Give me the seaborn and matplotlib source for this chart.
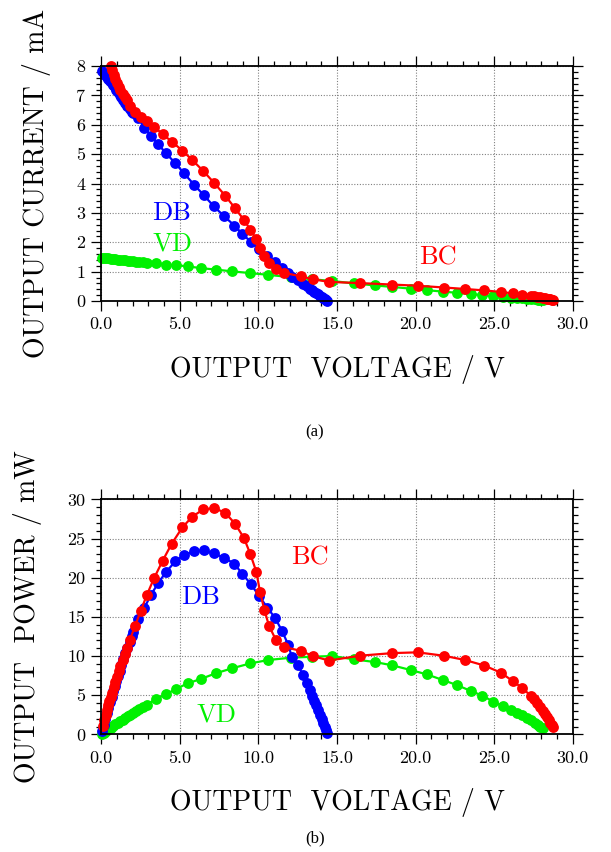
import numpy as np
import matplotlib
matplotlib.use("Agg")
import matplotlib.pyplot as plt
from matplotlib.ticker import MultipleLocator, FormatStrFormatter
import seaborn as sns

# ---- measured characteristics: voltage (V), current (mA), power (mW) ----
db_voltage = [0.05, 0.15, 0.25, 0.35, 0.45, 0.55, 0.65, 0.75, 0.85, 0.95,
              1.05, 1.16, 1.28, 1.40, 1.53, 1.66, 1.80, 1.94,
              2.04, 2.36, 2.74, 3.16, 3.63, 4.12, 4.71, 5.26, 5.92, 6.51,
              7.15, 7.81, 8.47, 8.98, 9.51, 10.04, 10.57, 11.07, 11.52, 11.90,
              12.12, 12.54, 12.82, 13.07, 13.28, 13.42, 13.55, 13.68, 13.80,
              13.92, 14.03, 14.13, 14.22, 14.30, 14.37]
db_current = [7.84, 7.77, 7.70, 7.62, 7.55, 7.48, 7.41, 7.34, 7.27, 7.19,
              7.12, 7.03, 6.94, 6.85, 6.75, 6.65, 6.55, 6.45,
              6.39, 6.22, 5.90, 5.63, 5.33, 5.03, 4.69, 4.35, 3.95, 3.61,
              3.23, 2.89, 2.57, 2.28, 2.02, 1.76, 1.53, 1.34, 1.14, 0.96,
              0.82, 0.70, 0.59, 0.50, 0.42, 0.37, 0.32, 0.27, 0.225,
              0.18, 0.14, 0.10, 0.07, 0.04, 0.01]
db_power = [0.39, 1.17, 1.93, 2.67, 3.40, 4.11, 4.82, 5.51, 6.18, 6.83,
            7.48, 8.15, 8.88, 9.59, 10.33, 11.04, 11.79, 12.51,
            13.04, 14.68, 16.17, 17.79, 19.35, 20.72, 22.09, 22.88, 23.38, 23.50,
            23.09, 22.57, 21.77, 20.47, 19.21, 17.67, 16.17, 14.83, 13.13, 11.42,
            9.9, 8.8, 7.6, 6.5, 5.6, 4.9, 4.3, 3.7, 3.1,
            2.5, 1.9, 1.4, 0.95, 0.55, 0.15]

bc_voltage = [0.12, 0.20, 0.28, 0.36, 0.44, 0.52, 0.60, 0.68, 0.78, 0.88, 0.98,
              1.10, 1.22, 1.35, 1.48, 1.61, 1.82, 2.14, 2.50, 2.89, 3.35,
              3.90, 4.48, 5.16, 5.79, 6.50, 7.20, 7.88, 8.51, 9.08, 9.48,
              9.87, 10.10, 10.38, 10.67, 11.10, 11.63, 12.69, 13.49, 14.49, 16.46,
              18.52, 20.14, 21.81, 23.15, 24.38, 25.42, 26.18, 26.80, 27.33,
              27.55, 27.75, 27.93, 28.08, 28.22, 28.35, 28.47, 28.57, 28.66, 28.73]
bc_current = [9.00, 8.85, 8.70, 8.55, 8.40, 8.20, 8.00, 7.85, 7.70, 7.55, 7.41,
              7.30, 7.19, 7.06, 6.95, 6.84, 6.64, 6.45, 6.28, 6.14, 5.94,
              5.68, 5.43, 5.12, 4.80, 4.42, 4.01, 3.59, 3.16, 2.76, 2.43,
              2.10, 1.80, 1.53, 1.30, 1.09, 0.96, 0.84, 0.74, 0.65, 0.61,
              0.56, 0.52, 0.46, 0.41, 0.36, 0.31, 0.26, 0.22, 0.18,
              0.162, 0.142, 0.124, 0.107, 0.092, 0.078, 0.065, 0.053, 0.042, 0.031]
bc_power = [1.08, 1.77, 2.44, 3.08, 3.70, 4.26, 4.80, 5.34, 6.01, 6.64, 7.26,
            8.03, 8.77, 9.53, 10.29, 11.01, 12.08, 13.80, 15.70, 17.75, 19.90,
            22.15, 24.33, 26.42, 27.79, 28.73, 28.87, 28.29, 26.9, 25.06, 23.04,
            20.73, 18.18, 15.88, 13.87, 12.10, 11.16, 10.66, 9.98, 9.42, 10.04,
            10.37, 10.47, 10.03, 9.49, 8.78, 7.88, 6.81, 5.90, 4.92,
            4.45, 3.95, 3.45, 3.0, 2.6, 2.2, 1.85, 1.5, 1.2, 0.9]

vd_voltage = [0.02, 0.15, 0.30, 0.45, 0.60, 0.75, 0.90, 1.05, 1.20, 1.36,
              1.52, 1.68, 1.85, 2.03, 2.22, 2.42, 2.64, 2.89, 3.47, 4.12,
              4.75, 5.50, 6.32, 7.28, 8.32, 9.49, 10.63, 12.09, 13.43, 14.70,
              16.08, 17.42, 18.52, 19.69, 20.71, 21.73, 22.62, 23.53, 24.25, 24.95,
              25.55, 26.08, 26.45, 26.80, 27.10, 27.35, 27.57, 27.77, 27.95, 28.09]
vd_current = [1.48, 1.47, 1.46, 1.45, 1.44, 1.43, 1.42, 1.41, 1.40, 1.39,
              1.38, 1.37, 1.36, 1.35, 1.34, 1.33, 1.32, 1.31, 1.30, 1.24,
              1.22, 1.18, 1.12, 1.07, 1.01, 0.95, 0.89, 0.81, 0.74, 0.68,
              0.60, 0.53, 0.48, 0.42, 0.37, 0.32, 0.28, 0.235, 0.204, 0.167,
              0.142, 0.119, 0.104, 0.090, 0.077, 0.066, 0.054, 0.045, 0.036, 0.027]
vd_power = [0.03, 0.22, 0.44, 0.65, 0.86, 1.07, 1.28, 1.48, 1.68, 1.89,
            2.10, 2.30, 2.52, 2.74, 2.97, 3.22, 3.48, 3.79, 4.51, 5.11,
            5.79, 6.51, 7.06, 7.79, 8.43, 9.06, 9.49, 9.79, 9.91, 10.0,
            9.57, 9.23, 8.81, 8.21, 7.66, 6.94, 6.30, 5.53, 4.94, 4.17,
            3.62, 3.11, 2.75, 2.42, 2.1, 1.8, 1.5, 1.25, 1.0, 0.77]

series_names = ["VD", "DB", "BC"]
series_colors = {"DB": "#0000ff", "BC": "#ff0000", "VD": "#00f000"}
series_data = {
    "DB": (db_voltage, db_current, db_power),
    "BC": (bc_voltage, bc_current, bc_power),
    "VD": (vd_voltage, vd_current, vd_power),
}

current_max = 8
power_max = 30
voltage_max = 30

sns.set_style("ticks")
plt.rcParams.update({
    "font.family": ["cmr10", "DejaVu Serif"],
    "axes.formatter.use_mathtext": True,
    "mathtext.fontset": "cm",
    "axes.unicode_minus": False,
    "text.color": "black",
    "axes.labelcolor": "black",
    "xtick.color": "black",
    "ytick.color": "black",
})

fig = plt.figure(figsize=(6.11, 8.52), dpi=100)
ax_i = fig.add_axes([0.1658, 0.6467, 0.7715, 0.2758])
ax_p = fig.add_axes([0.1658, 0.1381, 0.7715, 0.2758])


def draw_series(ax, x, y, color):
    sns.lineplot(x=x, y=y, ax=ax, color=color, linewidth=1.6, marker="o",
                 markersize=7.8, markeredgewidth=0, sort=False,
                 estimator=None, legend=False, clip_on=False)


def style_axes(ax, ymax, ymajor, yminor, yfmt, ylabel):
    ax.set_xlim(0, voltage_max)
    ax.set_ylim(0, ymax)
    ax.xaxis.set_major_locator(MultipleLocator(5))
    ax.xaxis.set_minor_locator(MultipleLocator(1))
    ax.yaxis.set_major_locator(MultipleLocator(ymajor))
    ax.yaxis.set_minor_locator(MultipleLocator(yminor))
    ax.xaxis.set_major_formatter(FormatStrFormatter("%.1f"))
    ax.yaxis.set_major_formatter(FormatStrFormatter(yfmt))
    ax.grid(which="major", linestyle=(0, (1, 1.5)), color="#808080", linewidth=0.8)
    ax.tick_params(which="both", direction="out", top=True, right=True,
                   width=0.9, colors="black", labelsize=13)
    ax.tick_params(which="major", length=7.5, pad=4)
    ax.tick_params(which="minor", length=3.8)
    for spine in ax.spines.values():
        spine.set_linewidth(1.3)
        spine.set_color("black")
    ax.set_xlabel("OUTPUT  VOLTAGE / V", fontsize=20, labelpad=16, color="black")
    ax.set_ylabel(ylabel, fontsize=20, labelpad=18, color="black")


for name in series_names:
    v, i, p = (np.asarray(a) for a in series_data[name])
    shown = i <= current_max
    draw_series(ax_i, v[shown], i[shown], series_colors[name])
    draw_series(ax_p, v, p, series_colors[name])

style_axes(ax_i, current_max, 1, 0.2, "%d", "OUTPUT CURRENT / mA")
style_axes(ax_p, power_max, 5, 1, "%d", "OUTPUT  POWER / mW")

# curve names written next to the curves
ax_i.text(4.5, 3.0, "DB", color=series_colors["DB"], fontsize=19, ha="center", va="center")
ax_i.text(4.5, 1.97, "VD", color=series_colors["VD"], fontsize=19, ha="center", va="center")
ax_i.text(21.4, 1.46, "BC", color=series_colors["BC"], fontsize=19, ha="center", va="center")
ax_p.text(13.3, 22.5, "BC", color=series_colors["BC"], fontsize=19, ha="center", va="center")
ax_p.text(6.33, 17.5, "DB", color=series_colors["DB"], fontsize=19, ha="center", va="center")
ax_p.text(7.35, 2.47, "VD", color=series_colors["VD"], fontsize=19, ha="center", va="center")

fig.text(0.5155, 0.493, "(a)", fontsize=12, family="Liberation Serif", ha="center", va="center", color="black")
fig.text(0.5155, 0.0164, "(b)", fontsize=12, family="Liberation Serif", ha="center", va="center", color="black")

fig.savefig("out.png", dpi=100)
